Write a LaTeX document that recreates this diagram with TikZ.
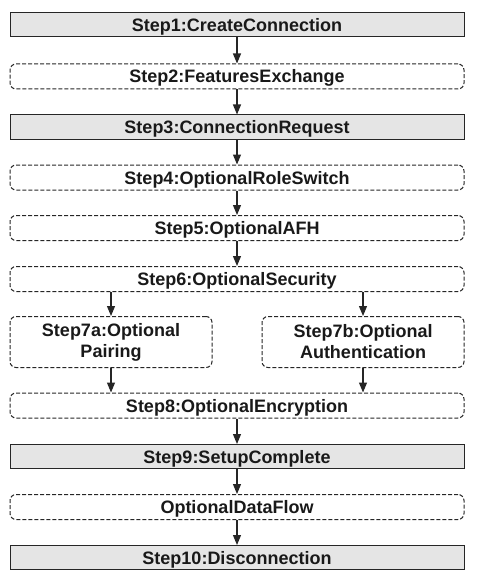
\documentclass[tikz,border=0pt]{standalone}
\usepackage{fontspec}
\setmainfont{Liberation Sans}
\usetikzlibrary{arrows.meta}
\begin{document}
\begin{tikzpicture}[x=1pt,y=-1pt,
  base/.style={font=\fontsize{18}{21}\selectfont\bfseries, text=black!90, inner sep=0pt, align=center},
  oneline/.style={text height=13pt, text depth=0pt},
  solidbox/.style={base, oneline, draw=black!85, line width=1pt, fill=black!10, minimum width=454pt, minimum height=24pt},
  dashbox/.style={base, oneline, draw=black!85, line width=1pt, dash pattern=on 4pt off 2pt, rounded corners=6pt, minimum width=454pt, minimum height=25pt},
  halfbox/.style={base, draw=black!85, line width=1pt, dash pattern=on 4pt off 2pt, rounded corners=6pt, minimum width=202pt, minimum height=51pt},
  conn/.style={draw=black!85, line width=1.1pt, -{Triangle[length=10pt,width=8pt]}}]
\useasboundingbox (0,0) rectangle (477,583);
\node[solidbox] (s1) at (237,25) {Step1:CreateConnection};
\node[dashbox] (s2) at (237,76.5) {Step2:FeaturesExchange};
\node[solidbox] (s3) at (237,127) {Step3:ConnectionRequest};
\node[dashbox] (s4) at (237,177.5) {Step4:OptionalRoleSwitch};
\node[dashbox] (s5) at (237,228) {Step5:OptionalAFH};
\node[dashbox] (s6) at (237,279) {Step6:OptionalSecurity};
\node[halfbox] (s7a) at (111,342) {Step7a:Optional\\Pairing};
\node[halfbox] (s7b) at (363,342) {Step7b:Optional\\Authentication};
\node[dashbox] (s8) at (237,405.5) {Step8:OptionalEncryption};
\node[solidbox] (s9) at (237,456.5) {Step9:SetupComplete};
\node[dashbox] (df) at (237,507) {OptionalDataFlow};
\node[solidbox] (s10) at (237,557.5) {Step10:Disconnection};
\draw[conn] (s1) -- (s2);
\draw[conn] (s2) -- (s3);
\draw[conn] (s3) -- (s4);
\draw[conn] (s4) -- (s5);
\draw[conn] (s5) -- (s6);
\draw[conn] (s6.south -| s7a) -- (s7a);
\draw[conn] (s6.south -| s7b) -- (s7b);
\draw[conn] (s7a) -- (s7a |- s8.north);
\draw[conn] (s7b) -- (s7b |- s8.north);
\draw[conn] (s8) -- (s9);
\draw[conn] (s9) -- (df);
\draw[conn] (df) -- (s10);
\end{tikzpicture}
\end{document}
